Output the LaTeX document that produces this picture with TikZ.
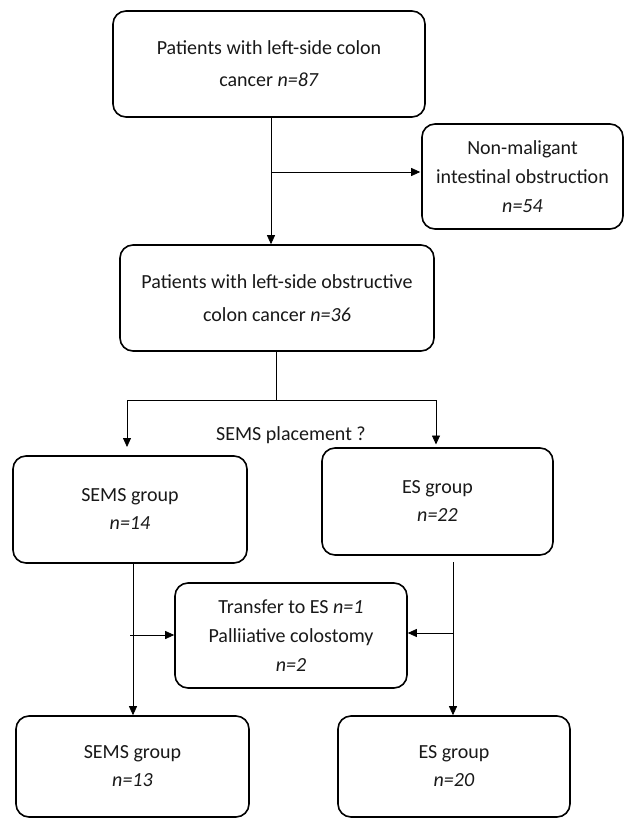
\documentclass[tikz,border=0pt]{standalone}
\usepackage{fontspec}
\setmainfont{Carlito}
\usetikzlibrary{arrows.meta}
\tikzset{
  box/.style={draw=black, line width=1.6pt, rounded corners=13pt, align=center,
    inner sep=0pt, text=black!90},
  conn/.style={draw=black, line width=0.8pt},
  arr/.style={conn, -{Triangle[length=9pt,width=8pt]}},
  lbl/.style={font=\fontsize{20}{24}\selectfont, inner sep=0pt, text=black!90}
}
\begin{document}
\begin{tikzpicture}[x=1pt,y=-1pt]
\useasboundingbox[fill=white] (0,0) rectangle (624,819);

\node[box, minimum width=312pt, minimum height=106pt, font=\fontsize{20}{32}\selectfont] (b1) at (269,64)
  {Patients with left-side colon\\cancer \textit{n=87}};
\node[box, minimum width=201pt, minimum height=105pt, font=\fontsize{20}{29}\selectfont] (nm) at (522.5,176.5)
  {Non-maligant\\intestinal obstruction\\\textit{n=54}};
\node[box, minimum width=314pt, minimum height=106pt, font=\fontsize{20}{33}\selectfont] (b2) at (277,298)
  {Patients with left-side obstructive\\colon cancer \textit{n=36}};
\node[box, minimum width=234pt, minimum height=107pt, font=\fontsize{20}{28}\selectfont] (semsA) at (130,509.5)
  {SEMS group\\\textit{n=14}};
\node[box, minimum width=231pt, minimum height=107pt, font=\fontsize{20}{28}\selectfont] (esA) at (437.5,501.5)
  {ES group\\\textit{n=22}};
\node[box, minimum width=232pt, minimum height=105pt, font=\fontsize{20}{29}\selectfont] (tr) at (291,635.5)
  {Transfer to ES \textit{n=1}\\Palliiative colostomy\\\textit{n=2}};
\node[box, minimum width=233pt, minimum height=101pt, font=\fontsize{20}{28}\selectfont] (semsB) at (132.5,766.5)
  {SEMS group\\\textit{n=13}};
\node[box, minimum width=232pt, minimum height=101pt, font=\fontsize{20}{28}\selectfont] (esB) at (454,766.5)
  {ES group\\\textit{n=20}};

\node[lbl] (q) at (291,435) {SEMS placement ?};

% top connectors
\coordinate (t1) at (271,117);
\coordinate (j1) at (271,172);
\draw[arr] (t1) -- (t1 |- b2.north);
\draw[arr] (j1) -- ([xshift=-1pt]nm.west |- j1);

% split
\coordinate (s0) at (276,351);
\coordinate (s1) at (276,400);
\coordinate (sl) at (127,400);
\coordinate (sr) at (436,400);
\draw[conn] (s0) -- (s1);
\draw[conn] (sl) -- (sr);
\draw[arr] (sl) -- (127,447);
\draw[arr] (sr) -- (436,444.5);

% lower connectors
\coordinate (l0) at (133,563);
\coordinate (lj) at (130,635);
\coordinate (r0) at (453,562);
\coordinate (rj) at (453,633);
\draw[arr] (l0) -- (l0 |- semsB.north);
\draw[arr] (lj) -- (lj -| tr.west);
\draw[arr] (r0) -- (r0 |- esB.north);
\draw[arr] (rj) -- (rj -| tr.east);
\end{tikzpicture}
\end{document}
